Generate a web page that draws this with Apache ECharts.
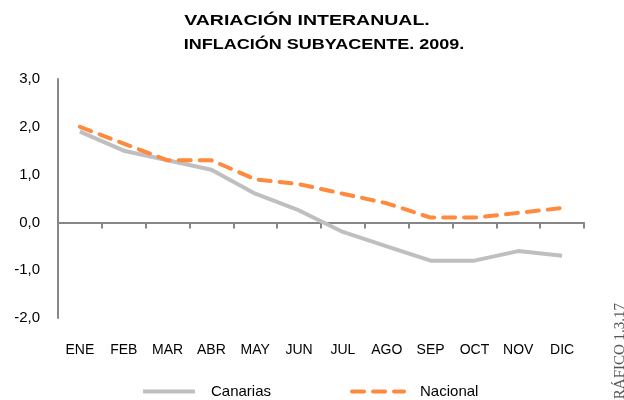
<!DOCTYPE html>
<html><head><meta charset="utf-8">
<script src="https://cdn.jsdelivr.net/npm/echarts@6/dist/echarts.min.js"></script>
<style>html,body{margin:0;padding:0;background:#fff}#c{width:624px;height:400px}</style>
</head><body><div id="c"></div>
<script>
const categories = ['ENE','FEB','MAR','ABR','MAY','JUN','JUL','AGO','SEP','OCT','NOV','DIC'];
const canarias = [1.9, 1.5, 1.3, 1.1, 0.6, 0.25, -0.2, -0.5, -0.8, -0.8, -0.6, -0.7];
const nacional = [2.0, 1.65, 1.3, 1.3, 0.9, 0.8, 0.6, 0.4, 0.1, 0.1, 0.2, 0.3];
const titleLine1 = 'VARIACIÓN INTERANUAL.';
const titleLine2 = 'INFLACIÓN SUBYACENTE. 2009.';
const sideLabel = 'GRÁFICO 1.3.17';

const titleFont = 'bold 15px "Liberation Sans", Arial, sans-serif';
const chart = echarts.init(document.getElementById('c'));
chart.setOption({
  animation: false,
  legend: {
    top: 384, left: 141, padding: 0,
    itemWidth: 52, itemHeight: 12, itemGap: 79,
    itemStyle: { opacity: 0 },
    lineStyle: { width: 4 },
    textStyle: { fontFamily: 'Liberation Sans, Arial', fontSize: 15, color: '#000', padding: [0,0,0,11] },
    data: ['Canarias', 'Nacional']
  },
  grid: { left: 58, right: 40, top: 79, bottom: 82 },
  xAxis: [{
    type: 'category', data: categories,
    axisLine: { onZero: true, lineStyle: { color: '#868686', width: 2 } },
    axisTick: { show: true, alignWithLabel: false, length: 6, lineStyle: { color: '#868686', width: 2 } },
    axisLabel: { show: false }
  }, {
    type: 'category', data: categories, position: 'bottom',
    axisLine: { show: false }, axisTick: { show: false },
    axisLabel: { margin: 25, fontFamily: 'Liberation Sans, Arial', fontSize: 14, color: '#000' }
  }],
  yAxis: {
    type: 'value', min: -2, max: 3, interval: 1,
    axisLine: { show: true, lineStyle: { color: '#868686', width: 2 } },
    axisTick: { show: false },
    splitLine: { show: false },
    axisLabel: { margin: 18, fontFamily: 'Liberation Sans, Arial', fontSize: 15, color: '#000',
      formatter: v => v.toFixed(1).replace('.', ',') }
  },
  series: [{
    name: 'Canarias', type: 'line', data: canarias, symbol: 'none',
    lineStyle: { color: '#BFBFBF', width: 4 }, itemStyle: { color: '#BFBFBF' }
  }, {
    name: 'Nacional', type: 'line', data: nacional, symbol: 'none',
    lineStyle: { color: '#FF8A3D', width: 4, type: [12, 9], cap: 'round' }, itemStyle: { color: '#FF8A3D' }
  }],
  graphic: [{
    type: 'text', x: 307, y: 21, scaleX: 1.3,
    style: { text: titleLine1, font: titleFont, fill: '#000', textAlign: 'center', textVerticalAlign: 'middle' }
  }, {
    type: 'text', x: 324, y: 45, scaleX: 1.2,
    style: { text: titleLine2, font: titleFont, fill: '#000', textAlign: 'center', textVerticalAlign: 'middle' }
  }, {
    type: 'text', x: 620, y: 410, rotation: Math.PI / 2,
    style: { text: sideLabel, font: '15px "Liberation Serif", serif', fill: '#555', textAlign: 'left', textVerticalAlign: 'middle' }
  }]
});
</script></body></html>
